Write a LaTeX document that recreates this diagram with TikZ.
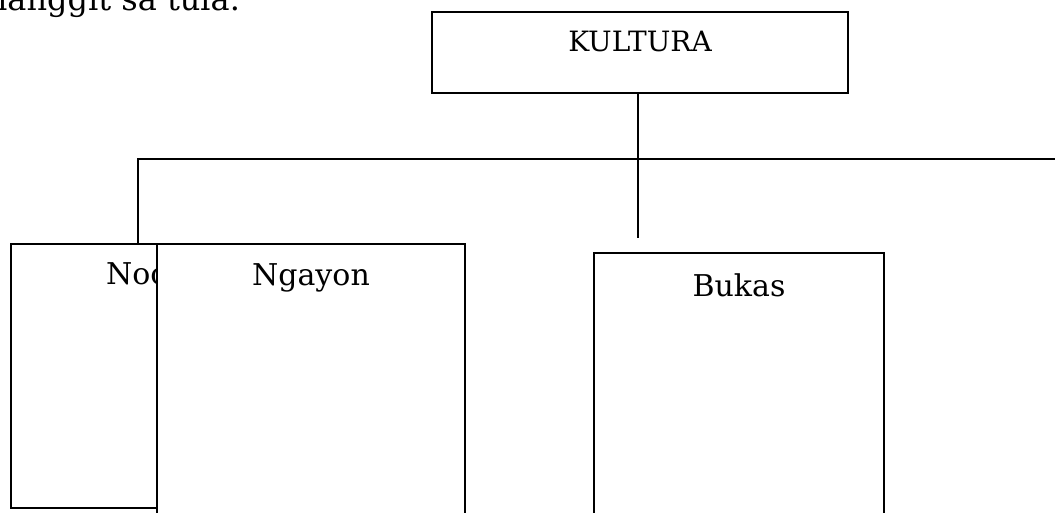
\documentclass[tikz,border=0pt]{standalone}
\usepackage{fontspec}
\setmainfont{DejaVu Serif}
\tikzset{
  box/.style={draw=black, line width=2pt, fill=white, inner sep=0pt, outer sep=0pt},
  conn/.style={draw=black, line width=1.2pt},
  lbl/.style={inner sep=0pt, outer sep=0pt, font=\fontsize{30}{36}\selectfont},
  lblsmall/.style={inner sep=0pt, outer sep=0pt, font=\fontsize{28}{33}\selectfont},
  lbltop/.style={inner sep=0pt, outer sep=0pt, font=\fontsize{32}{38}\selectfont}
}
\begin{document}
\begin{tikzpicture}[x=1pt,y=-1pt]
\useasboundingbox (0,0) rectangle (1055,513);
\clip (0,0) rectangle (1055,513);
\fill[white] (0,0) rectangle (1055,513);
% top line of text, cut by the frame
\node[lbltop, anchor=base east] (intro) at (240,10.7) {binanggit sa tula.};
% boxes
\node[box, anchor=north west, minimum width=416pt, minimum height=81pt] (kultura) at (432,12) {};
\node[lblsmall, anchor=base] (tkultura) at (640,51.5) {KULTURA};
\node[box, anchor=north west, minimum width=269pt, minimum height=264pt] (noon) at (11,244) {};
\node[lbl, anchor=base west] (tnoon) at (106,284) {Noon};
\node[box, anchor=north west, minimum width=308pt, minimum height=300pt] (ngayon) at (157,244) {};
\node[lbl, anchor=base] (tngayon) at (311,285) {Ngayon};
\node[box, anchor=north west, minimum width=290pt, minimum height=300pt] (bukas) at (594,253) {};
\node[lbl, anchor=base] (tbukas) at (739,296) {Bukas};
% connectors
\coordinate (jl) at (138,159);
\coordinate (jr) at (1055,159);
\coordinate (kb) at (638,238);
\draw[conn] (jl |- noon.north) -- (jl) -- (jr);
\draw[conn] (kultura.south -| kb) -- (kb);
\end{tikzpicture}
\end{document}
